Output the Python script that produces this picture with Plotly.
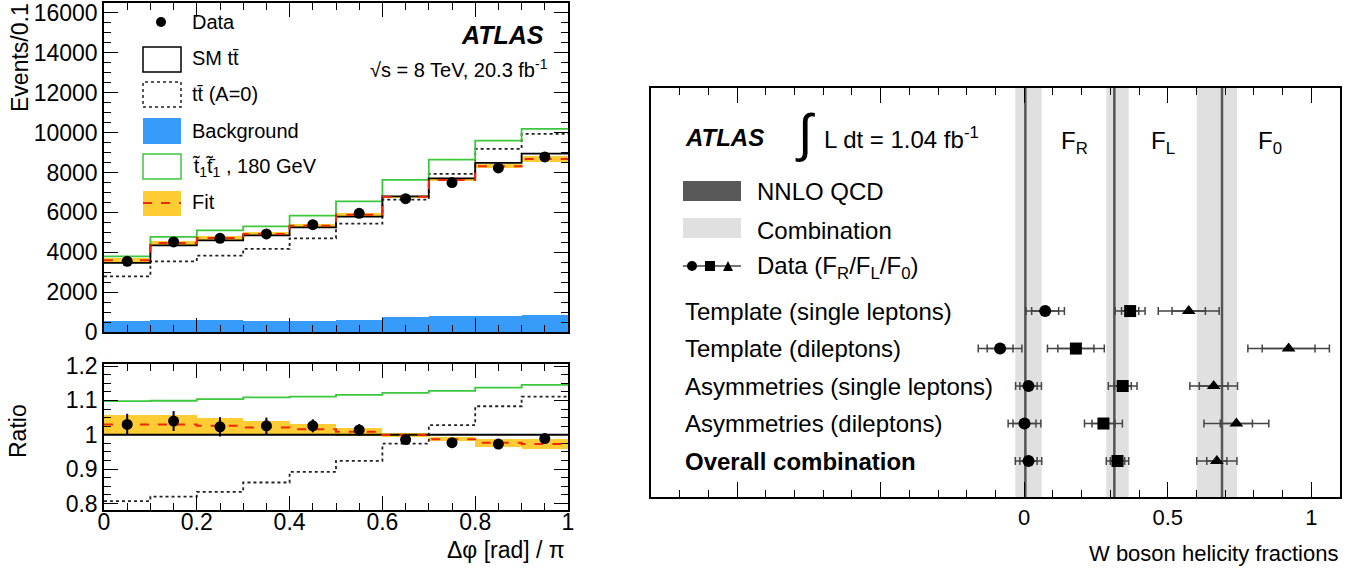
import plotly.graph_objects as go

W, H = 1369, 576
FONT = "Liberation Sans, Arial, sans-serif"

# ---- left panel: delta phi distribution ----
edges = [0.0, 0.1, 0.2, 0.3, 0.4, 0.5, 0.6, 0.7, 0.8, 0.9, 1.0]
centers = [0.05, 0.15, 0.25, 0.35, 0.45, 0.55, 0.65, 0.75, 0.85, 0.95]

data_evt = [3545, 4515, 4700, 4916, 5385, 5953, 6689, 7492, 8227, 8779]
sm_evt = [3462, 4348, 4599, 4849, 5251, 5786, 6806, 7709, 8478, 8946]
a0_evt = [2793, 3545, 3829, 4164, 4699, 5435, 6639, 7926, 9181, 9933]
stop_evt = [3796, 4766, 5100, 5301, 5836, 6555, 7625, 8645, 9599, 10184]
fit_evt = [3595, 4465, 4716, 4916, 5334, 5886, 6789, 7625, 8311, 8679]
fit_err_evt = [93, 117, 106, 97, 84, 69, 41, 46, 102, 134]
bkg_evt = [535, 619, 585, 535, 569, 585, 736, 819, 819, 870]

# ratio to SM
data_ratio = [1.030, 1.040, 1.023, 1.026, 1.026, 1.014, 0.986, 0.977, 0.973, 0.989]
data_ratio_err = [0.031, 0.029, 0.028, 0.024, 0.019, 0.017, 0.007, 0.005, 0.006, 0.010]
sm_ratio = [1, 1, 1, 1, 1, 1, 1, 1, 1, 1]
a0_ratio = [0.807, 0.820, 0.834, 0.861, 0.892, 0.924, 0.974, 1.028, 1.083, 1.111]
stop_ratio = [1.098, 1.099, 1.104, 1.109, 1.111, 1.116, 1.122, 1.128, 1.137, 1.145]
fit_ratio = [1.030, 1.030, 1.026, 1.021, 1.016, 1.009, 0.999, 0.987, 0.977, 0.973]
fit_ratio_err = [0.027, 0.027, 0.023, 0.020, 0.016, 0.012, 0.006, 0.006, 0.012, 0.015]

# ---- right panel: W helicity fractions ----
rows = ["Template (single leptons)", "Template (dileptons)",
        "Asymmetries (single leptons)", "Asymmetries (dileptons)",
        "<b>Overall combination</b>"]
row_pos = [5, 4, 3, 2, 1]
FR = [0.073, -0.084, 0.015, 0.001, 0.015]
FR_tot = [0.067, 0.076, 0.045, 0.057, 0.046]
FR_stat = [0.047, 0.045, 0.030, 0.040, 0.030]
FL = [0.369, 0.180, 0.343, 0.276, 0.325]
FL_tot = [0.052, 0.099, 0.050, 0.066, 0.039]
FL_stat = [0.030, 0.063, 0.030, 0.040, 0.025]
F0 = [0.573, 0.921, 0.660, 0.739, 0.671]
F0_tot = [0.106, 0.142, 0.083, 0.113, 0.070]
F0_stat = [0.058, 0.092, 0.050, 0.056, 0.035]
nnlo = [0.004, 0.314, 0.689]
frac_names = ["F<sub>R</sub>", "F<sub>L</sub>", "F<sub>0</sub>"]


def px(x):
    return x / W


def py(y):
    return 1 - y / H


def step(vals):
    return list(vals) + [vals[-1]]


fig = go.Figure()

# top panel
fig.add_trace(go.Bar(x=centers, y=bkg_evt, width=0.1, marker=dict(color="rgb(55,155,250)", line_width=0),
                     xaxis="x", yaxis="y"))
fig.add_trace(go.Bar(x=centers, y=[2 * e for e in fit_err_evt], base=[f - e for f, e in zip(fit_evt, fit_err_evt)],
                     width=0.1, marker=dict(color="rgb(255,204,51)", line_width=0), xaxis="x", yaxis="y"))
fig.add_trace(go.Scatter(x=edges, y=step(a0_evt), mode="lines", line=dict(color="#222", width=1.8, dash="dot", shape="hv"),
                         xaxis="x", yaxis="y"))
fig.add_trace(go.Scatter(x=edges, y=step(stop_evt), mode="lines", line=dict(color="rgb(60,200,60)", width=1.8, shape="hv"),
                         xaxis="x", yaxis="y"))
fig.add_trace(go.Scatter(x=edges, y=step(sm_evt), mode="lines", line=dict(color="black", width=1.8, shape="hv"),
                         xaxis="x", yaxis="y"))
fig.add_trace(go.Scatter(x=edges, y=step(fit_evt), mode="lines", line=dict(color="rgb(240,40,0)", width=2, dash="dash", shape="hv"),
                         xaxis="x", yaxis="y"))
fig.add_trace(go.Scatter(x=centers, y=data_evt, mode="markers", marker=dict(color="black", size=11),
                         xaxis="x", yaxis="y"))

# ratio panel
fig.add_trace(go.Bar(x=centers, y=[2 * e for e in fit_ratio_err], base=[f - e for f, e in zip(fit_ratio, fit_ratio_err)],
                     width=0.1, marker=dict(color="rgb(255,204,51)", line_width=0), xaxis="x2", yaxis="y2"))
fig.add_trace(go.Scatter(x=edges, y=step(a0_ratio), mode="lines", line=dict(color="#222", width=1.8, dash="dot", shape="hv"),
                         xaxis="x2", yaxis="y2"))
fig.add_trace(go.Scatter(x=edges, y=step(stop_ratio), mode="lines", line=dict(color="rgb(60,200,60)", width=1.8, shape="hv"),
                         xaxis="x2", yaxis="y2"))
fig.add_trace(go.Scatter(x=edges, y=step(sm_ratio), mode="lines", line=dict(color="black", width=1.8, shape="hv"),
                         xaxis="x2", yaxis="y2"))
fig.add_trace(go.Scatter(x=edges, y=step(fit_ratio), mode="lines", line=dict(color="rgb(240,40,0)", width=2, dash="dash", shape="hv"),
                         xaxis="x2", yaxis="y2"))
fig.add_trace(go.Scatter(x=centers, y=data_ratio, mode="markers", marker=dict(color="black", size=11),
                         error_y=dict(type="data", array=data_ratio_err, color="black", thickness=2, width=0),
                         xaxis="x2", yaxis="y2"))

# right panel
for vals, tot, stat, sym in [(FR, FR_tot, FR_stat, "circle"), (FL, FL_tot, FL_stat, "square"),
                             (F0, F0_tot, F0_stat, "triangle-up")]:
    fig.add_trace(go.Scatter(x=vals, y=row_pos, mode="markers", marker=dict(opacity=0, size=2),
                             error_x=dict(type="data", array=stat, color="#444", thickness=1.5, width=4),
                             xaxis="x3", yaxis="y3"))
    fig.add_trace(go.Scatter(x=vals, y=row_pos, mode="markers", marker=dict(color="black", size=12, symbol=sym),
                             error_x=dict(type="data", array=tot, color="#444", thickness=1.5, width=4),
                             xaxis="x3", yaxis="y3"))

shapes = []
# combination bands and NNLO lines
for vals, tot in [(FR, FR_tot), (FL, FL_tot), (F0, F0_tot)]:
    shapes.append(dict(type="rect", xref="x3", yref="y3 domain", x0=vals[-1] - tot[-1], x1=vals[-1] + tot[-1],
                       y0=0, y1=1, fillcolor="#e0e0e0", line_width=0, layer="below"))
for v in nnlo:
    shapes.append(dict(type="line", xref="x3", yref="y3 domain", x0=v, x1=v, y0=0, y1=1,
                       line=dict(color="#555", width=2.5), layer="below"))

# left legend symbols
P = dict(xref="paper", yref="paper")
shapes += [
    dict(type="circle", x0=px(156), x1=px(166), y0=py(27), y1=py(17), fillcolor="black", line_width=0, **P),
    dict(type="rect", x0=px(143), x1=px(181), y0=py(72), y1=py(47), line=dict(color="black", width=1.5), **P),
    dict(type="rect", x0=px(143), x1=px(181), y0=py(107), y1=py(82), line=dict(color="#222", width=1.5, dash="dot"), **P),
    dict(type="rect", x0=px(143), x1=px(181), y0=py(144), y1=py(118), fillcolor="rgb(55,155,250)", line_width=0, **P),
    dict(type="rect", x0=px(143), x1=px(181), y0=py(179), y1=py(154), line=dict(color="rgb(60,200,60)", width=1.5), **P),
    dict(type="rect", x0=px(143), x1=px(181), y0=py(216), y1=py(191), fillcolor="rgb(255,204,51)", line_width=0, **P),
    dict(type="line", x0=px(143), x1=px(181), y0=py(203), y1=py(203), line=dict(color="rgb(240,40,0)", width=2, dash="dash"), **P),
]
# right legend symbols
shapes += [
    dict(type="rect", x0=px(683), x1=px(741), y0=py(201), y1=py(181), fillcolor="#595959", line_width=0, **P),
    dict(type="rect", x0=px(683), x1=px(741), y0=py(238), y1=py(218), fillcolor="#e0e0e0", line_width=0, **P),
    dict(type="line", x0=px(683), x1=px(741), y0=py(266), y1=py(266), line=dict(color="#444", width=1.5), **P),
    dict(type="circle", x0=px(687), x1=px(697), y0=py(271), y1=py(261), fillcolor="black", line_width=0, **P),
    dict(type="rect", x0=px(705), x1=px(715), y0=py(271), y1=py(261), fillcolor="black", line_width=0, **P),
    dict(type="path", path="M %f,%f L %f,%f L %f,%f Z" % (px(723), py(271), px(733), py(271), px(728), py(261)),
         fillcolor="black", line_width=0, **P),
]

ann = []


def text(x, y, s, size=19, xanchor="left", **kw):
    ann.append(dict(x=px(x), y=py(y), xref="paper", yref="paper", text=s, showarrow=False,
                    xanchor=xanchor, yanchor="middle", font=dict(family=FONT, size=size, color="black"), **kw))


text(190, 22, "Data", size=20)
text(190, 58, "SM tt\u0304", size=20)
text(190, 94, "tt\u0304 (A=0)", size=20)
text(190, 131, "Background", size=20)
text(190, 167, "t\u0303<sub>1</sub>t\u0303\u0304<sub>1</sub> , 180 GeV", size=20)
text(190, 202, "Fit", size=20)
text(546, 35, "<b><i>ATLAS</i></b>", size=25, xanchor="right")
text(550, 68, "\u221as = 8 TeV, 20.3 fb<sup>-1</sup>", size=20, xanchor="right")
text(20, 58, "Events/0.1", size=23, xanchor="center", textangle=-90)
text(18, 431, "Ratio", size=23, xanchor="center", textangle=-90)
text(567, 550, "\u0394\u03c6 [rad] / \u03c0", size=23, xanchor="right")

text(683, 137, "<b><i>ATLAS</i></b>", size=24)
text(805, 133, "\u222b", size=52, xanchor="center")
text(822, 138, "L dt = 1.04 fb<sup>-1</sup>", size=24)
for xx, nm in zip([1059, 1149, 1256], frac_names):
    text(xx, 143, nm, size=24)
text(755, 192, "NNLO QCD", size=24)
text(755, 230, "Combination", size=24)
text(755, 267, "Data (F<sub>R</sub>/F<sub>L</sub>/F<sub>0</sub>)", size=24)
text(1340, 553, "W boson helicity fractions", size=22, xanchor="right")

for lab, r in zip(rows, row_pos):
    ann.append(dict(x=px(683), y=r, xref="paper", yref="y3", text=lab, showarrow=False, xanchor="left",
                    yanchor="middle", font=dict(family=FONT, size=24, color="black")))

frame = dict(showline=True, linecolor="black", linewidth=1.5, mirror="allticks", showgrid=False, zeroline=False,
             automargin=False, ticks="inside", tickcolor="black", tickfont=dict(family=FONT, size=23, color="black"))

fig.update_layout(
    width=W, height=H, margin=dict(l=0, r=0, t=0, b=0), showlegend=False, barmode="overlay", bargap=0,
    plot_bgcolor="white", paper_bgcolor="white",
    xaxis=dict(frame, domain=[px(104), px(568)], range=[0, 1], anchor="y", showticklabels=False,
               dtick=0.2, ticklen=14, minor=dict(dtick=0.05, ticklen=7, ticks="inside", tickcolor="black")),
    yaxis=dict(frame, domain=[py(332), py(3)], range=[0, 16500], anchor="x", dtick=2000, tickformat="d",
               ticklen=14, minor=dict(dtick=500, ticklen=7, ticks="inside", tickcolor="black")),
    xaxis2=dict(frame, domain=[px(104), px(568)], range=[0, 1], anchor="y2", dtick=0.2, ticklen=14,
                ticklabelstandoff=-9,
                minor=dict(dtick=0.05, ticklen=7, ticks="inside", tickcolor="black")),
    yaxis2=dict(frame, domain=[py(510), py(364)], range=[0.781, 1.206], anchor="x2", dtick=0.1, ticklen=14,
                minor=dict(dtick=0.025, ticklen=7, ticks="inside", tickcolor="black")),
    xaxis3=dict(frame, domain=[px(651), px(1340)], range=[-1.30, 1.10], anchor="y3",
                tickvals=[-1, -0.5, 0, 0.5, 1], ticktext=["", "", "0", "0.5", "1"], ticklen=15,
                tickfont=dict(family=FONT, size=22, color="black"),
                minor=dict(dtick=0.1, ticklen=7, ticks="inside", tickcolor="black")),
    yaxis3=dict(showline=True, linecolor="black", linewidth=1.5, mirror=True, showgrid=False, zeroline=False,
                automargin=False, domain=[py(497), py(88)], range=[0.04, 10.95], anchor="x3",
                showticklabels=False, ticks=""),
    shapes=shapes, annotations=ann,
)

# the page body has a default 8px margin; drop it so the figure sits at the window origin
fig.write_html("out.html", config={"displayModeBar": False},
               post_script="document.body.style.margin='0';")
